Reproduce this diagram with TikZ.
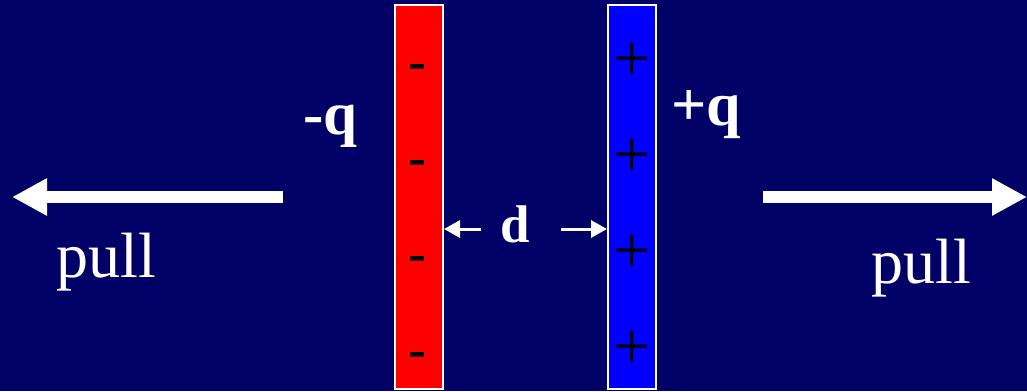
\documentclass[tikz,border=0pt]{standalone}
\usepackage{fontspec}
\setmainfont{Liberation Serif}
\usetikzlibrary{arrows.meta}
\definecolor{bgnavy}{RGB}{0,0,102}
\tikzset{
  plate/.style={rectangle, draw=white, line width=2pt, minimum width=48pt, minimum height=384pt, inner sep=0pt},
  label/.style={text=white, inner sep=0pt, anchor=base},
  sign/.style={text=black, inner sep=0pt, anchor=base, font=\fontsize{66}{66}\selectfont},
  bigarrow/.style={draw=white, line width=12pt, -{Triangle[length=35pt,width=35pt]}},
  darrow/.style={draw=white, line width=3pt, -{Triangle[length=16pt,width=17pt]}},
}
\begin{document}
\begin{tikzpicture}[x=1pt,y=-1pt]
\fill[bgnavy] (0,0) rectangle (1027,391);
\useasboundingbox (0,0) rectangle (1027,391);
% plates
\node[plate, fill=red] (neg) at (419,196.5) {};
\node[plate, fill=blue] (pos) at (632,196.5) {};
% minus signs
\foreach \y [count=\i] in {79,175,271,367} {
  \node[sign, font=\fontsize{54}{54}\selectfont\bfseries] (m\i) at (417,\y) {-};
}
% plus signs
\foreach \y [count=\i] in {80,176,272,368} {
  \node[sign] (p\i) at (632,\y) {+};
}
% charges
\node[label, font=\fontsize{61}{61}\selectfont\bfseries] (qn) at (330.5,134) {-q};
\node[label, font=\fontsize{62}{62}\selectfont\bfseries] (qp) at (706.5,125) {+q};
% separation
\node[label, font=\fontsize{53}{53}\selectfont\bfseries] (d) at (515,242) {d};
\coordinate (dl) at (481,229);
\coordinate (dr) at (561,229);
\draw[darrow] (dl) -- (neg.east |- dl);
\draw[darrow] (dr) -- (pos.west |- dr);
% pull arrows
\coordinate (la) at (283,197);
\coordinate (lt) at (12,197);
\coordinate (ra) at (763,197);
\coordinate (rt) at (1027,197);
\draw[bigarrow] (la) -- (lt);
\draw[bigarrow] (ra) -- (rt);
\node[label, font=\fontsize{64}{64}\selectfont] (pl) at (106,277) {pull};
\node[label, font=\fontsize{64}{64}\selectfont] (pr) at (921.5,283) {pull};
\end{tikzpicture}
\end{document}
